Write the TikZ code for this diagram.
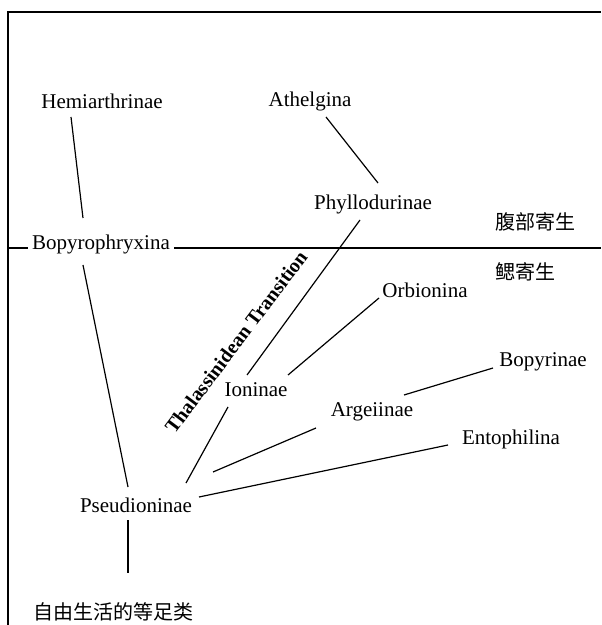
\documentclass[tikz,border=0pt]{standalone}
\usepackage{fontspec}
\setmainfont{Liberation Serif}
\newfontfamily\cjk{Noto Sans CJK SC}
\usetikzlibrary{calc}
\tikzset{
	taxon/.style={inner sep=0pt, font=\fontsize{10.5}{12}\selectfont},
	habitat/.style={inner sep=0pt, font=\cjk\fontsize{10}{12}\selectfont},
	branch/.style={line width=0.6pt},
}
\begin{document}
\begin{tikzpicture}[x=0.5pt, y=-0.5pt]
		
		\useasboundingbox (0,0) rectangle (601,625);
		
		\draw[branch] (8,625)--(8,12)--(601,12);
		\draw[branch] (8,248)--(601,248);
		
		\node[taxon] (hemi) at (102,101) {Hemiarthrinae};
		\node[taxon] (athel) at (310,101) {Athelgina};
		\node[taxon] (phyllo) at (373,204) {Phyllodurinae};
		\node[taxon, fill=white, inner sep=2pt] (bopyro) at (101,244) {Bopyrophryxina};
		\node[taxon] (orbi) at (425,290) {Orbionina};
		\node[taxon] (ion) at (256,390) {Ioninae};
		\node[taxon] (bopyr) at (543,362) {Bopyrinae};
		\node[taxon] (argei) at (372,412) {Argeiinae};
		\node[taxon] (ento) at (511,439) {Entophilina};
		\node[taxon] (pseud) at (136,505) {Pseudioninae};
		
		\node[habitat, anchor=west] (abdo) at (495,222) {腹部寄生};
		\node[habitat, anchor=west] (gill) at (495,272) {鳃寄生};
		\node[habitat] (free) at (113,612) {自由生活的等足类};
		
		\node[rotate=53, inner sep=0pt, font=\bfseries\fontsize{10}{11}\selectfont] (trans) at (236,342) {Thalassinidean Transition};
		
		\draw[branch] ($(hemi)+(-31,16)$)--($(bopyro)+(-18,-26)$);
		\draw[branch] ($(bopyro)+(-18,21)$)--($(pseud)+(-8,-18)$);
		\draw[branch] ($(pseud)+(-8,15)$)--($(free)+(15,-39)$);
		\draw[branch] ($(athel)+(16,16)$)--($(phyllo)+(5,-21)$);
		\draw[branch] ($(phyllo)+(-13,16)$)--($(ion)+(-9,-15)$);
		\draw[branch] ($(orbi)+(-46,8)$)--($(ion)+(32,-15)$);
		\draw[branch] ($(ion)+(-28,17)$)--($(pseud)+(50,-22)$);
		\draw[branch] ($(bopyr)+(-50,6)$)--($(argei)+(32,-17)$);
		\draw[branch] ($(argei)+(-56,16)$)--($(pseud)+(77,-33)$);
		\draw[branch] ($(ento)+(-63,6)$)--($(pseud)+(63,-8)$);
		\end{tikzpicture}
\end{document}
